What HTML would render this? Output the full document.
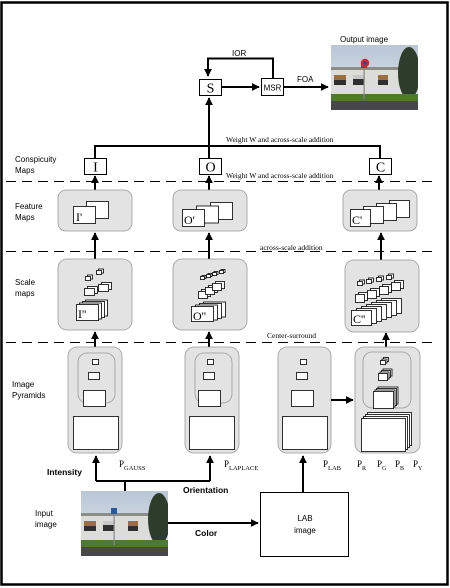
<!DOCTYPE html>
<html><head><meta charset="utf-8"><style>
html,body{margin:0;padding:0;background:#fff;width:450px;height:588px;overflow:hidden}
svg{display:block}
.s{font-family:"Liberation Sans",sans-serif;font-size:8px;fill:#000}
.sb{font-family:"Liberation Sans",sans-serif;font-size:8.5px;font-weight:bold;fill:#000}
.r{font-family:"Liberation Serif",serif;fill:#000}
</style></head><body>
<svg id="sv" width="450" height="588" viewBox="0 0 450 588" xmlns="http://www.w3.org/2000/svg">
<defs>
<marker id="ah" viewBox="0 0 10 10" refX="9" refY="5" markerWidth="4" markerHeight="4" orient="auto-start-reverse"><path d="M0,0L10,5L0,10z" fill="#000"/></marker>
<linearGradient id="sky" x1="0" y1="0" x2="0" y2="1"><stop offset="0" stop-color="#b9c6d6"/><stop offset="1" stop-color="#e6eaee"/></linearGradient>
<clipPath id="pc"><rect width="87" height="65"/></clipPath>
<g id="photo" clip-path="url(#pc)">
<rect width="87" height="65" fill="url(#sky)"/>
<rect x="0" y="22" width="72" height="4" fill="#8c8c88"/>
<rect x="0" y="25" width="72" height="24" fill="#dcdcd8"/>
<rect x="3" y="30" width="12" height="10" fill="#2f2f2f"/><rect x="3" y="30" width="12" height="5" fill="#9a7040"/>
<rect x="22" y="30" width="11" height="10" fill="#2f2f2f"/><rect x="22" y="30" width="11" height="4" fill="#c8c8c8"/>
<rect x="47" y="30" width="10" height="10" fill="#2f2f2f"/><rect x="47" y="30" width="10" height="5" fill="#9a7040"/>
<ellipse cx="78" cy="28" rx="11" ry="26" fill="#2e3d2b"/>
<rect x="0" y="49" width="87" height="7" fill="#4e7a2f"/>
<rect x="0" y="56" width="87" height="9" fill="#48484a"/>
<rect x="32.5" y="18" width="1.2" height="36" fill="#888"/>
<rect x="30" y="17" width="6" height="6" fill="#2b5a9c"/>
</g>
</defs>
<rect x="1.5" y="2.5" width="446" height="582" fill="none" stroke="#000" stroke-width="2.5"/>
<g stroke="#000" stroke-width="1" stroke-dasharray="10,6" fill="none">
<line x1="6" y1="181.5" x2="435" y2="181.5"/>
<line x1="6" y1="251.5" x2="435" y2="251.5"/>
<line x1="6" y1="342.5" x2="435" y2="342.5"/>
</g>
<text class="s" x="340" y="42">Output image</text>
<g transform="translate(331,45)"><use href="#photo"/><circle cx="34" cy="18" r="4.2" fill="#e0202a"/><circle cx="34" cy="18" r="1.8" fill="#2b4a8c"/></g>
<g stroke="#000" stroke-width="2" fill="none">
<polyline points="273,78 273,58.5 208,58.5 208,76" marker-end="url(#ah)"/>
<line x1="221" y1="87" x2="259" y2="87" marker-end="url(#ah)"/>
<line x1="283" y1="87" x2="328" y2="87" marker-end="url(#ah)"/>
<line x1="209" y1="158" x2="209" y2="98" marker-end="url(#ah)"/>
<polyline points="95,158 95,146 380,146 380,158"/>
</g>
<text class="s" x="232" y="56">IOR</text>
<text class="s" x="297" y="82">FOA</text>
<rect x="199.5" y="79.5" width="22" height="16" fill="#fff" stroke="#000"/>
<text class="r" x="210.5" y="92.5" font-size="14" text-anchor="middle">S</text>
<rect x="261.5" y="78.5" width="22" height="17" fill="#fff" stroke="#000"/>
<text class="s" x="272.5" y="90.5" text-anchor="middle" font-size="9">MSR</text>
<text class="r" x="226" y="142" font-size="7.5">Weight W and across-scale addition</text>
<text class="r" x="226" y="178" font-size="7.5">Weight W and across-scale addition</text>
<text class="s" x="15" y="162">Conspicuity</text><text class="s" x="15" y="173">Maps</text>
<g fill="#fff" stroke="#000"><rect x="84.5" y="158.5" width="22" height="16"/><rect x="199.5" y="158.5" width="22" height="16"/><rect x="369.5" y="158.5" width="22" height="16"/></g>
<g class="r" font-size="14" text-anchor="middle"><text x="95.5" y="171.5">I</text><text x="210.5" y="171.5">O</text><text x="380.5" y="171.5">C</text></g>
<g stroke="#000" stroke-width="2" fill="none" marker-end="url(#ah)">
<line x1="95" y1="190" x2="95" y2="176"/><line x1="209" y1="190" x2="209" y2="176"/><line x1="379" y1="190" x2="379" y2="176"/>
<line x1="95" y1="259" x2="95" y2="233"/><line x1="209" y1="259" x2="209" y2="233"/><line x1="381" y1="260" x2="381" y2="233"/>
<line x1="95" y1="347" x2="95" y2="332"/><line x1="209" y1="347" x2="209" y2="332"/><line x1="386" y1="348" x2="386" y2="333"/>
</g>
<g fill="#e3e3e3" stroke="#999" stroke-width="0.8">
<rect x="58" y="190" width="74" height="41" rx="8"/><rect x="173" y="190" width="74" height="41" rx="8"/><rect x="343" y="190" width="74" height="41" rx="8"/>
<rect x="58" y="259" width="74" height="71" rx="9"/><rect x="173" y="259" width="74" height="71" rx="9"/><rect x="345" y="260" width="74" height="72" rx="9"/>
<rect x="68" y="347" width="54" height="106" rx="9"/><rect x="185" y="347" width="54" height="106" rx="9"/><rect x="278" y="347" width="53" height="106" rx="9"/><rect x="355" y="347" width="65" height="106" rx="9"/>
<rect x="78" y="353" width="37" height="50" rx="9"/><rect x="195" y="353" width="37" height="50" rx="9"/><rect x="363" y="352" width="48" height="56" rx="9"/>
</g>
<g id="stacks" fill="#fff" stroke="#000" stroke-width="0.8"></g>
<g class="r" font-size="12"><text x="76" y="221">I'</text><text x="184" y="224">O'</text><text x="352" y="224">C'</text>
<text x="78" y="318">I''</text><text x="193" y="320">O''</text><text x="353" y="323">C''</text></g>
<text class="r" x="260" y="250" font-size="7.5">across-scale addition</text>
<text class="r" x="267" y="338" font-size="7.5">Center-surround</text>
<text class="s" x="15" y="209">Feature</text><text class="s" x="15" y="220">Maps</text>
<text class="s" x="15" y="285">Scale</text><text class="s" x="15" y="296">maps</text>
<text class="s" x="12" y="387">Image</text><text class="s" x="12" y="398">Pyramids</text>
<g fill="#fff" stroke="#000" stroke-width="0.8">
<rect x="92.5" y="359.5" width="6" height="5"/><rect x="88.5" y="372.5" width="11" height="7"/><rect x="83.5" y="390.5" width="22" height="16"/><rect x="73.5" y="416.5" width="45" height="33"/>
<rect x="207.5" y="359.5" width="6" height="5"/><rect x="203.5" y="372.5" width="11" height="7"/><rect x="198.5" y="390.5" width="22" height="16"/><rect x="189.5" y="416.5" width="45" height="33"/>
<rect x="300.5" y="359.5" width="6" height="5"/><rect x="296.5" y="372.5" width="11" height="7"/><rect x="291.5" y="390.5" width="22" height="16"/><rect x="282.5" y="416.5" width="45" height="33"/>
</g>
<g class="r" font-size="9">
<text x="119" y="467">P<tspan font-size="6.5" dy="3">GAUSS</tspan></text>
<text x="224" y="467">P<tspan font-size="6.5" dy="3">LAPLACE</tspan></text>
<text x="323" y="467">P<tspan font-size="6.5" dy="3">LAB</tspan></text>
<text x="357" y="467">P<tspan font-size="6" dy="3">R</tspan></text>
<text x="377" y="467">P<tspan font-size="6" dy="3">G</tspan></text>
<text x="395" y="467">P<tspan font-size="6" dy="3">B</tspan></text>
<text x="413" y="467">P<tspan font-size="6" dy="3">Y</tspan></text>
</g>
<g stroke="#000" stroke-width="2" fill="none">
<line x1="96" y1="481" x2="96" y2="456" marker-end="url(#ah)"/>
<line x1="210" y1="481" x2="210" y2="456" marker-end="url(#ah)"/>
<polyline points="96,481 210,481"/>
<line x1="125" y1="481" x2="125" y2="491"/>
<line x1="303" y1="492" x2="303" y2="456" marker-end="url(#ah)"/>
<line x1="331" y1="400" x2="353" y2="400" marker-end="url(#ah)"/>
<line x1="167" y1="523" x2="258" y2="523" marker-end="url(#ah)"/>
</g>
<text class="sb" x="47" y="475">Intensity</text>
<text class="sb" x="183" y="493">Orientation</text>
<text class="sb" x="195" y="536">Color</text>
<text class="s" x="35" y="516">Input</text><text class="s" x="35" y="527">image</text>
<g transform="translate(81,491)"><use href="#photo"/></g>
<rect x="260.5" y="492.5" width="88" height="64" fill="#fff" stroke="#000"/>
<text class="s" x="305" y="521" text-anchor="middle" font-size="10">LAB</text>
<text class="s" x="305" y="533" text-anchor="middle" font-size="10">image</text>
</svg>
<script>
var g=document.getElementById('stacks'),NS='http://www.w3.org/2000/svg';
function st(x,y,w,h,n,dx,dy){for(var i=n-1;i>=0;i--){var r=document.createElementNS(NS,'rect');r.setAttribute('x',x+i*dx+.5);r.setAttribute('y',y-i*dy+.5);r.setAttribute('width',w);r.setAttribute('height',h);g.appendChild(r);}}
st(73,206,22,17,2,13,5);
st(182,209,22,17,3,14,3.5);
st(350,209,20,17,4,13,3);
st(85,276,5,4,2,2,1.5);st(96,270,5,4,2,2,1.5);
st(84,288,10,7,2,3,2);st(98,284,10,7,2,3,2);
st(76,304,22,16,4,3,1.5);
[200,206,212,219].forEach(function(x,i){st(x,276-i*2,4,3,2,1.5,1)});
[198,205,212].forEach(function(x,i){st(x,291-i*4,9,7,2,3,2)});
st(191,306,22,15,4,4,1.5);
[357,366,376,386].forEach(function(x,i){st(x,281-i*2,5,4,2,2,1.5)});
[355,367,379,391].forEach(function(x,i){st(x,294-i*4,9,8,2,3,2)});
st(351,310,20,15,7,5,2);
st(380,360,5,4,3,1.5,1.5);st(378,373,9,7,4,1.5,1.5);st(373,391,20,17,4,1.5,1.5);st(361,418,44,33,4,2,2);
</script>
</body></html>
